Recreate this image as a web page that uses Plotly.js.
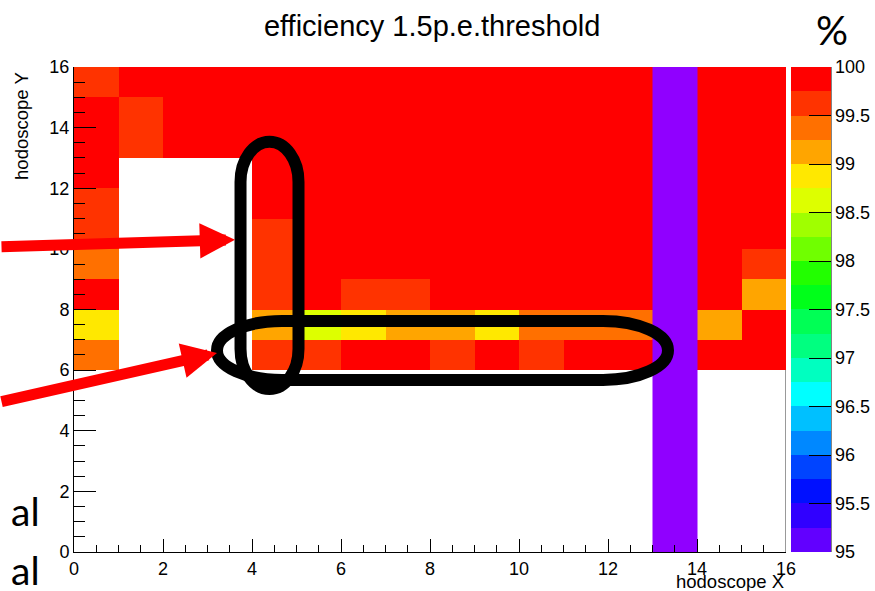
<!DOCTYPE html>
<html>
<head>
<meta charset="utf-8">
<script src="https://cdn.plot.ly/plotly-3.0.1.min.js"></script>
<style>
  html, body { margin: 0; padding: 0; background: #ffffff; }
  #chart { width: 875px; height: 591px; }
</style>
</head>
<body>
<div id="chart"></div>
<script>
// ---------------- data ----------------
const xCenters = [0.5, 1.5, 2.5, 3.5, 4.5, 5.5, 6.5, 7.5, 8.5, 9.5, 10.5, 11.5, 12.5, 13.5, 14.5, 15.5];
const yCenters = [0.5, 1.5, 2.5, 3.5, 4.5, 5.5, 6.5, 7.5, 8.5, 9.5, 10.5, 11.5, 12.5, 13.5, 14.5, 15.5];

// efficiency (%) per bin, row index = hodoscope Y bin, column = hodoscope X bin
const effRow0  = [null, null, null, null, null, null, null, null, null, null, null, null, null, null, null, null];
const effRow1  = [null, null, null, null, null, null, null, null, null, null, null, null, null, null, null, null];
const effRow2  = [null, null, null, null, null, null, null, null, null, null, null, null, null, null, null, null];
const effRow3  = [null, null, null, null, null, null, null, null, null, null, null, null, null, null, null, null];
const effRow4  = [null, null, null, null, null, null, null, null, null, null, null, null, null, null, null, null];
const effRow5  = [null, null, null, null, null, null, null, null, null, null, null, null, null, null, null, null];
const effRow6  = [99.4, null, null, null, 99.6, 99.6, 99.9, 99.9, 99.6, 99.9, 99.6, 99.9, 99.9, null, 99.9, 99.9];
const effRow7  = [98.85, null, null, null, 99.1, 98.6, 98.85, 99.1, 99.1, 98.85, 99.4, 99.4, 99.4, null, 99.1, 99.9];
const effRow8  = [99.9, null, null, null, 99.6, 99.9, 99.6, 99.6, 99.9, 99.9, 99.9, 99.9, 99.9, null, 99.9, 99.1];
const effRow9  = [99.4, null, null, null, 99.6, 99.9, 99.9, 99.9, 99.9, 99.9, 99.9, 99.9, 99.9, null, 99.9, 99.6];
const effRow10 = [99.6, null, null, null, 99.6, 99.9, 99.9, 99.9, 99.9, 99.9, 99.9, 99.9, 99.9, null, 99.9, 99.9];
const effRow11 = [99.6, null, null, null, 99.9, 99.9, 99.9, 99.9, 99.9, 99.9, 99.9, 99.9, 99.9, null, 99.9, 99.9];
const effRow12 = [99.9, null, null, null, 99.9, 99.9, 99.9, 99.9, 99.9, 99.9, 99.9, 99.9, 99.9, null, 99.9, 99.9];
const effRow13 = [99.9, 99.6, 99.9, 99.9, 99.9, 99.9, 99.9, 99.9, 99.9, 99.9, 99.9, 99.9, 99.9, null, 99.9, 99.9];
const effRow14 = [99.9, 99.6, 99.9, 99.9, 99.9, 99.9, 99.9, 99.9, 99.9, 99.9, 99.9, 99.9, 99.9, null, 99.9, 99.9];
const effRow15 = [99.6, 99.9, 99.9, 99.9, 99.9, 99.9, 99.9, 99.9, 99.9, 99.9, 99.9, 99.9, 99.9, null, 99.9, 99.9];

// hodoscope X bin 13 column: below the colour-scale minimum (underflow)
const deadColumnX = [13.5];
const deadColumnEff = [94.6, 94.6, 94.6, 94.6, 94.6, 94.6, 94.6, 94.6, 94.6, 94.6, 94.6, 94.6, 94.6, 94.6, 94.6, 94.6];

// colour scale
const zMin = 95, zMax = 100;
const bandColors = [ // from 95 upward, 0.25 % per band
  '#6200ff', '#3000ff', '#0010ff', '#0044ff', '#0088ff', '#00c0ff', '#00ffff', '#00ffc0',
  '#00ff80', '#00ff55', '#00ff1a', '#22ff00', '#70ff00', '#a0ff00', '#ddff00', '#ffe800',
  '#ffa500', '#ff7000', '#ff3300', '#ff0000'
];
const cbTickVals = [95, 95.5, 96, 96.5, 97, 97.5, 98, 98.5, 99, 99.5, 100];
const cbTickText = ['95', '95.5', '96', '96.5', '97', '97.5', '98', '98.5', '99', '99.5', '100'];
const axisTickVals = [0, 2, 4, 6, 8, 10, 12, 14, 16];

// ---------------- build ----------------
const zMatrix = [effRow0, effRow1, effRow2, effRow3, effRow4, effRow5, effRow6, effRow7,
                 effRow8, effRow9, effRow10, effRow11, effRow12, effRow13, effRow14, effRow15];
const deadZ = deadColumnEff.map(v => [v]);

const colorscale = [];
bandColors.forEach((c, i) => {
  colorscale.push([i / bandColors.length, c]);
  colorscale.push([(i + 1) / bandColors.length, c]);
});

const FONT = '"Liberation Sans", Arial, Helvetica, sans-serif';
const SLIDE_FONT = 'Lato, "Open Sans", "Noto Sans", sans-serif';

const traces = [
  {
    type: 'heatmap',
    x: xCenters, y: yCenters, z: zMatrix,
    zmin: zMin, zmax: zMax, zsmooth: false,
    colorscale: colorscale,
    hoverongaps: false,
    colorbar: {
      x: 1.007, xanchor: 'left', xpad: 0,
      y: 0.5, yanchor: 'middle', ypad: 0,
      len: 1, lenmode: 'fraction',
      thickness: 40, thicknessmode: 'pixels',
      outlinewidth: 0,
      tickmode: 'array', tickvals: cbTickVals, ticktext: cbTickText,
      ticks: 'inside', ticklen: 22, tickwidth: 1, tickcolor: '#000000',
      tickfont: { family: FONT, size: 18, color: '#000000' }
    }
  },
  {
    type: 'heatmap',
    x: deadColumnX, y: yCenters, z: deadZ,
    zmin: 90, zmax: 95, zsmooth: false,
    colorscale: [[0, '#9000ff'], [1, '#9000ff']],
    showscale: false
  }
];

// overlay outlines (hand-drawn marks on the slide)
const K = 0.5523;
function vStadium(xl, xr, yt, yb, ry) {
  const cx = (xl + xr) / 2, rx = (xr - xl) / 2;
  return `M${xl},${yt - ry} C${xl},${yt - ry + K * ry} ${cx - K * rx},${yt} ${cx},${yt} ` +
         `C${cx + K * rx},${yt} ${xr},${yt - ry + K * ry} ${xr},${yt - ry} ` +
         `L${xr},${yb + ry} C${xr},${yb + ry - K * ry} ${cx + K * rx},${yb} ${cx},${yb} ` +
         `C${cx - K * rx},${yb} ${xl},${yb + ry - K * ry} ${xl},${yb + ry} Z`;
}
function hStadium(xl, xr, yt, yb, rx) {
  const cy = (yt + yb) / 2, ry = (yt - yb) / 2;
  return `M${xl + rx},${yt} L${xr - rx},${yt} ` +
         `C${xr - rx + K * rx},${yt} ${xr},${cy + K * ry} ${xr},${cy} ` +
         `C${xr},${cy - K * ry} ${xr - rx + K * rx},${yb} ${xr - rx},${yb} ` +
         `L${xl + rx},${yb} C${xl + rx - K * rx},${yb} ${xl},${cy - K * ry} ${xl},${cy} ` +
         `C${xl},${cy + K * ry} ${xl + rx - K * rx},${yt} ${xl + rx},${yt} Z`;
}

const layout = {
  width: 875, height: 591,
  margin: { l: 74, r: 89, t: 67, b: 39, pad: 0, autoexpand: false },
  paper_bgcolor: '#ffffff', plot_bgcolor: '#ffffff',
  font: { family: FONT, size: 18, color: '#000000' },
  showlegend: false,
  title: {
    text: 'efficiency 1.5p.e.threshold',
    font: { family: FONT, size: 29, color: '#000000' },
    xref: 'paper', x: 0.503, xanchor: 'center',
    yref: 'container', y: 0.957, yanchor: 'middle'
  },
  xaxis: {
    range: [0, 16], showgrid: false, zeroline: false,
    showline: true, linecolor: '#000000', linewidth: 1,
    tickmode: 'array', tickvals: axisTickVals,
    ticks: 'inside', ticklen: 13, tickwidth: 1, tickcolor: '#000000',
    minor: { dtick: 0.5, ticks: 'inside', ticklen: 7, tickwidth: 1, tickcolor: '#000000', showgrid: false },
    tickfont: { family: FONT, size: 18, color: '#000000' },
    layer: 'above traces', fixedrange: true
  },
  yaxis: {
    range: [0, 16], showgrid: false, zeroline: false,
    showline: true, linecolor: '#000000', linewidth: 1,
    tickmode: 'array', tickvals: axisTickVals,
    ticks: 'inside', ticklen: 22, tickwidth: 1, tickcolor: '#000000',
    minor: { dtick: 0.5, ticks: 'inside', ticklen: 11, tickwidth: 1, tickcolor: '#000000', showgrid: false },
    tickfont: { family: FONT, size: 18, color: '#000000' },
    layer: 'above traces', fixedrange: true
  },
  shapes: [
    { type: 'line', xref: 'x', yref: 'y', x0: 16, x1: 16, y0: 0, y1: 16, layer: 'below',
      line: { color: '#333333', width: 1 } },
    { type: 'line', xref: 'paper', yref: 'paper', x0: 1.0632, x1: 1.0632, y0: 0, y1: 1, layer: 'above',
      line: { color: '#000000', width: 1 } },
    { type: 'path', xref: 'x', yref: 'y', layer: 'above',
      path: hStadium(3.213, 13.348, 7.624, 5.677, 1.46),
      line: { color: '#000000', width: 12 }, fillcolor: 'rgba(0,0,0,0)' },
    { type: 'path', xref: 'x', yref: 'y', layer: 'above',
      path: vStadium(3.742, 5.045, 13.53, 5.38, 1.32),
      line: { color: '#000000', width: 12 }, fillcolor: 'rgba(0,0,0,0)' }
  ],
  annotations: [
    { text: 'hodoscope X', xref: 'paper', yref: 'paper', x: 1, y: -0.06,
      xanchor: 'right', yanchor: 'middle', showarrow: false,
      font: { family: FONT, size: 18.5, color: '#000000' } },
    { text: 'hodoscope Y', xref: 'paper', yref: 'paper', x: -0.073, y: 0.994,
      xanchor: 'center', yanchor: 'top', textangle: -90, showarrow: false,
      font: { family: FONT, size: 18.5, color: '#000000' } },
    { text: '%', xref: 'paper', yref: 'paper', x: 1.0646, y: 1.076,
      xanchor: 'center', yanchor: 'middle', showarrow: false,
      font: { family: SLIDE_FONT, size: 40, color: '#000000' } },
    { text: 'al', xref: 'paper', yref: 'paper', x: -0.045, y: 0.0845,
      xanchor: 'right', yanchor: 'middle', showarrow: false,
      font: { family: SLIDE_FONT, size: 39, color: '#000000' } },
    { text: 'al', xref: 'paper', yref: 'paper', x: -0.045, y: -0.037,
      xanchor: 'right', yanchor: 'middle', showarrow: false,
      font: { family: SLIDE_FONT, size: 39, color: '#000000' } },
    // red arrows
    { text: '', xref: 'x', yref: 'y', x: 3.618, y: 10.30, axref: 'pixel', ayref: 'pixel',
      ax: -250, ay: 7, showarrow: true, arrowhead: 2, arrowsize: 0.64, arrowwidth: 11,
      arrowcolor: '#ff0000', standoff: 0 },
    { text: '', xref: 'x', yref: 'y', x: 3.213, y: 6.568, axref: 'pixel', ayref: 'pixel',
      ax: -240, ay: 49, showarrow: true, arrowhead: 2, arrowsize: 0.64, arrowwidth: 11,
      arrowcolor: '#ff0000', standoff: 0 }
  ]
};

Plotly.newPlot('chart', traces, layout, { displayModeBar: false, staticPlot: true });
</script>
</body>
</html>
